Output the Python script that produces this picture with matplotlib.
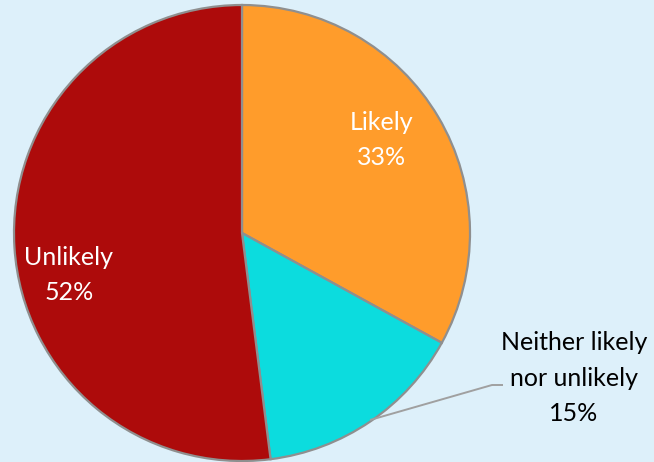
import matplotlib.pyplot as plt

# slice data, clockwise from 12 o'clock
labels = ['Likely', 'Neither likely\nnor unlikely', 'Unlikely']
shares = [33, 15, 52]
colors = ['#FF9C2B', '#0CDCDE', '#AD0B0B']

plt.rcParams['font.family'] = ['Lato', 'DejaVu Sans']

fig = plt.figure(figsize=(6.54, 4.62), dpi=100)
fig.patch.set_facecolor('#DDF0FA')
ax = fig.add_axes([0, 0, 1, 1])

cx, cy, r = 242, 229, 228
wedges, _ = ax.pie(shares, colors=colors, startangle=90, counterclock=False,
                   center=(cx, cy), radius=r, frame=True,
                   wedgeprops=dict(edgecolor='#8f8f8f', linewidth=1.6))
ax.set_xlim(0, 654)
ax.set_ylim(0, 462)
ax.set_aspect('equal')
ax.axis('off')

fs = 18
ls = 1.65
ax.text(382, 322, f'{labels[0]}\n{shares[0]}%', ha='center', va='center',
        fontsize=fs, color='white', linespacing=ls)
ax.text(69, 187, f'{labels[2]}\n{shares[2]}%', ha='center', va='center',
        fontsize=fs, color='white', linespacing=ls)
ax.text(574, 84, f'{labels[1]}\n{shares[1]}%', ha='center', va='center',
        fontsize=fs, color='black', linespacing=ls)

# leader line for the outside label
ax.plot([370, 492, 503], [42, 77, 77], color='#a0a0a0', lw=1.4,
        solid_capstyle='butt')

fig.savefig('out.png', dpi=100, facecolor=fig.get_facecolor())
